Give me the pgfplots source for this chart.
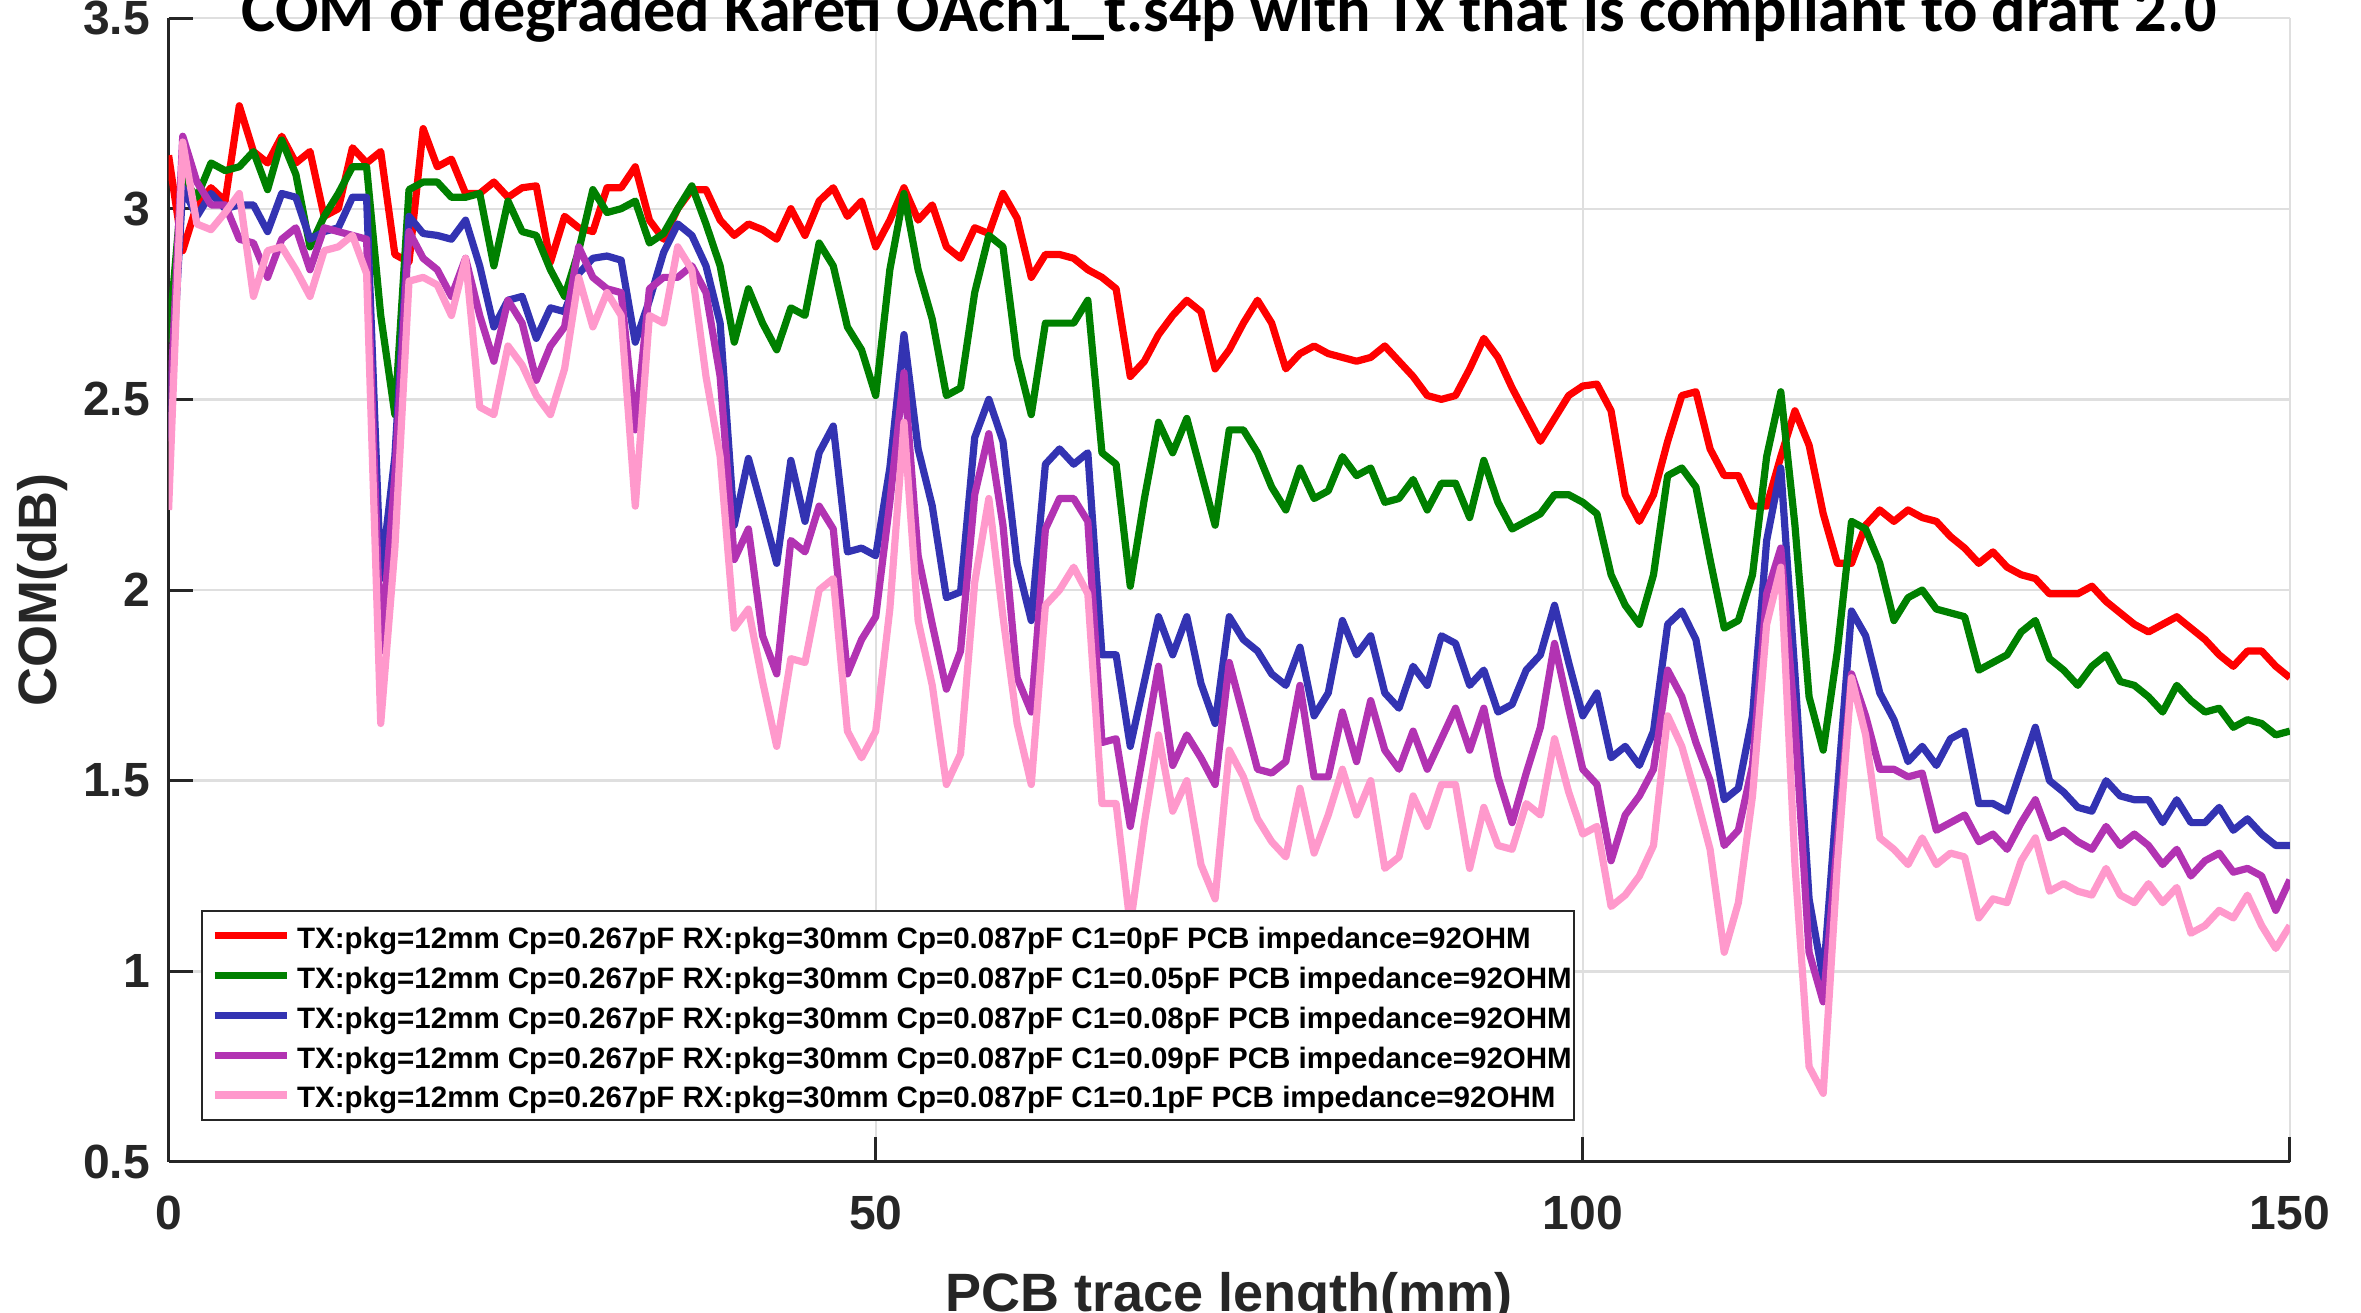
\documentclass[border=0pt]{standalone}
\usepackage{fontspec}
\setmainfont{Liberation Sans}
\newfontfamily\titlefont{Carlito}
\usepackage{pgfplots}
\usepackage{pgfplotstable}
\pgfplotsset{compat=1.18}

\definecolor{axgray}{RGB}{38,38,38}
\definecolor{gridgray}{RGB}{223,223,223}
\definecolor{cRed}{RGB}{255,0,0}
\definecolor{cGreen}{RGB}{0,128,0}
\definecolor{cBlue}{RGB}{51,51,178}
\definecolor{cPurple}{RGB}{178,51,178}
\definecolor{cPink}{RGB}{255,153,204}

% COM (dB) versus PCB trace length (mm), one column per C1 value
\pgfplotstableread{
x   c0    c05   c08   c09   c10
0   3.14  2.65  2.40  2.39  2.21
1   2.89  3.08  3.055 3.19  3.175
2   3.01  3.03  2.98  3.07  2.96
3   3.055 3.12  3.04  3.01  2.945
4   3.02  3.10  3.00  3.01  2.99
5   3.27  3.11  3.01  2.92  3.04
6   3.15  3.15  3.01  2.91  2.77
7   3.12  3.05  2.94  2.82  2.89
8   3.19  3.18  3.04  2.92  2.90
9   3.12  3.09  3.03  2.95  2.84
10  3.15  2.90  2.92  2.84  2.77
11  2.98  2.98  2.94  2.95  2.89
12  3.00  3.04  2.95  2.94  2.90
13  3.16  3.11  3.03  2.93  2.93
14  3.12  3.11  3.03  2.92  2.83
15  3.15  2.72  2.03  1.84  1.65
16  2.88  2.46  2.35  2.30  2.11
17  2.86  3.05  2.98  2.94  2.81
18  3.21  3.07  2.935 2.87  2.82
19  3.11  3.07  2.93  2.84  2.80
20  3.13  3.03  2.92  2.77  2.72
21  3.04  3.03  2.97  2.87  2.87
22  3.04  3.04  2.85  2.72  2.48
23  3.07  2.85  2.69  2.60  2.46
24  3.03  3.02  2.76  2.76  2.64
25  3.055 2.94  2.77  2.70  2.59
26  3.06  2.93  2.66  2.55  2.51
27  2.86  2.84  2.74  2.64  2.46
28  2.98  2.77  2.73  2.69  2.58
29  2.95  2.89  2.83  2.90  2.82
30  2.94  3.05  2.87  2.82  2.69
31  3.055 2.99  2.876 2.79  2.78
32  3.055 3.00  2.865 2.78  2.72
33  3.11  3.02  2.65  2.42  2.22
34  2.97  2.91  2.76  2.79  2.72
35  2.92  2.935 2.885 2.82  2.70
36  3.00  3.00  2.96  2.82  2.90
37  3.05  3.06  2.93  2.85  2.84
38  3.05  2.96  2.85  2.78  2.56
39  2.97  2.85  2.70  2.56  2.35
40  2.93  2.65  2.17  2.08  1.90
41  2.96  2.79  2.345 2.16  1.95
42  2.945 2.70  2.21  1.88  1.76
43  2.92  2.63  2.07  1.78  1.59
44  3.00  2.74  2.34  2.13  1.82
45  2.93  2.72  2.18  2.10  1.81
46  3.02  2.91  2.36  2.22  2.00
47  3.055 2.85  2.43  2.16  2.03
48  2.98  2.69  2.10  1.78  1.63
49  3.02  2.63  2.11  1.87  1.56
50  2.90  2.51  2.09  1.93  1.63
51  2.97  2.84  2.32  2.23  1.95
52  3.055 3.04  2.67  2.57  2.44
53  2.97  2.84  2.37  2.09  1.92
54  3.01  2.71  2.22  1.91  1.75
55  2.90  2.51  1.98  1.74  1.49
56  2.87  2.53  1.995 1.84  1.57
57  2.95  2.78  2.40  2.25  2.02
58  2.935 2.93  2.50  2.41  2.24
59  3.04  2.90  2.39  2.17  1.93
60  2.975 2.61  2.07  1.77  1.65
61  2.82  2.46  1.92  1.68  1.49
62  2.88  2.70  2.33  2.16  1.96
63  2.88  2.70  2.37  2.24  2.00
64  2.87  2.70  2.33  2.24  2.06
65  2.84  2.76  2.36  2.18  1.99
66  2.82  2.36  1.83  1.60  1.44
67  2.79  2.33  1.83  1.61  1.44
68  2.56  2.01  1.59  1.38  1.12
69  2.60  2.24  1.76  1.59  1.39
70  2.67  2.44  1.93  1.80  1.62
71  2.72  2.36  1.83  1.54  1.42
72  2.76  2.45  1.93  1.62  1.50
73  2.73  2.31  1.755 1.56  1.28
74  2.58  2.17  1.65  1.49  1.19
75  2.63  2.42  1.93  1.81  1.58
76  2.70  2.42  1.87  1.67  1.51
77  2.76  2.36  1.84  1.53  1.40
78  2.70  2.27  1.78  1.52  1.34
79  2.58  2.21  1.75  1.55  1.30
80  2.62  2.32  1.85  1.75  1.48
81  2.64  2.24  1.67  1.51  1.31
82  2.62  2.26  1.73  1.51  1.41
83  2.61  2.35  1.92  1.68  1.53
84  2.60  2.30  1.83  1.55  1.41
85  2.61  2.32  1.88  1.71  1.50
86  2.64  2.23  1.73  1.58  1.27
87  2.60  2.24  1.69  1.53  1.30
88  2.56  2.29  1.80  1.63  1.46
89  2.51  2.21  1.75  1.53  1.38
90  2.50  2.28  1.88  1.61  1.49
91  2.51  2.28  1.86  1.69  1.49
92  2.58  2.19  1.75  1.58  1.27
93  2.66  2.34  1.79  1.69  1.43
94  2.61  2.23  1.68  1.51  1.33
95  2.53  2.16  1.70  1.39  1.32
96  2.46  2.18  1.79  1.52  1.44
97  2.39  2.20  1.83  1.64  1.41
98  2.45  2.25  1.96  1.86  1.61
99  2.51  2.25  1.81  1.69  1.47
100 2.535 2.23  1.67  1.53  1.36
101 2.54  2.20  1.73  1.49  1.38
102 2.47  2.04  1.56  1.29  1.17
103 2.25  1.96  1.59  1.41  1.20
104 2.18  1.91  1.54  1.46  1.25
105 2.25  2.04  1.63  1.53  1.33
106 2.39  2.30  1.91  1.79  1.67
107 2.51  2.32  1.945 1.72  1.59
108 2.52  2.27  1.87  1.60  1.46
109 2.37  2.08  1.66  1.50  1.32
110 2.30  1.90  1.45  1.33  1.05
111 2.30  1.92  1.48  1.37  1.18
112 2.22  2.04  1.67  1.54  1.46
113 2.22  2.35  2.13  1.99  1.91
114 2.35  2.52  2.32  2.11  2.06
115 2.47  2.17  1.78  1.65  1.28
116 2.38  1.72  1.19  1.05  0.75
117 2.20  1.58  0.98  0.92  0.68
118 2.07  1.84  1.47  1.34  1.28
119 2.07  2.18  1.945 1.78  1.77
120 2.17  2.16  1.88  1.67  1.62
121 2.21  2.07  1.73  1.53  1.35
122 2.18  1.92  1.66  1.53  1.32
123 2.21  1.98  1.55  1.51  1.28
124 2.19  2.00  1.59  1.52  1.35
125 2.18  1.95  1.54  1.37  1.28
126 2.14  1.94  1.61  1.39  1.31
127 2.11  1.93  1.63  1.41  1.30
128 2.07  1.79  1.44  1.34  1.14
129 2.10  1.81  1.44  1.36  1.19
130 2.06  1.83  1.42  1.32  1.18
131 2.04  1.89  1.53  1.39  1.29
132 2.03  1.92  1.64  1.45  1.35
133 1.99  1.82  1.50  1.35  1.21
134 1.99  1.79  1.47  1.37  1.23
135 1.99  1.75  1.43  1.34  1.21
136 2.01  1.80  1.42  1.32  1.20
137 1.97  1.83  1.50  1.38  1.27
138 1.94  1.76  1.46  1.33  1.20
139 1.91  1.75  1.45  1.36  1.18
140 1.89  1.72  1.45  1.33  1.23
141 1.91  1.68  1.39  1.28  1.18
142 1.93  1.75  1.45  1.32  1.22
143 1.90  1.71  1.39  1.25  1.10
144 1.87  1.68  1.39  1.29  1.12
145 1.83  1.69  1.43  1.31  1.16
146 1.80  1.64  1.37  1.26  1.14
147 1.84  1.66  1.40  1.27  1.20
148 1.84  1.65  1.36  1.25  1.12
149 1.80  1.62  1.33  1.16  1.06
150 1.77  1.63  1.33  1.24  1.12
}\comdata

\newcommand{\entry}[1]{\makebox[422.7pt][l]{\rule[-2.5pt]{0pt}{12.57pt}#1}}

\begin{document}
\begin{tikzpicture}
\begin{axis}[
  scale only axis,
  width=707.1pt, height=381.3pt,
  xmin=0, xmax=150, ymin=0.5, ymax=3.5,
  xtick={0,50,100,150},
  ytick={0.5,1,1.5,2,2.5,3,3.5},
  grid=major,
  major grid style={draw=gridgray, line width=0.8pt},
  axis x line*=bottom, axis y line*=left,
  axis line style={draw=axgray, line width=1pt, -},
  tick align=inside,
  major tick length=8.3pt,
  tick style={draw=axgray, line width=1pt},
  /pgf/number format/assume math mode=true,
  ticklabel style={font=\fontsize{16}{19}\selectfont\bfseries, text=axgray},
  yticklabel style={anchor=east, inner sep=0pt, xshift=-6pt},
  xticklabel style={anchor=north, inner sep=0pt, yshift=-11pt},
  xlabel={PCB trace length(mm)},
  ylabel={COM(dB)},
  every axis x label/.style={at={(axis description cs:0.5,-0.1303)}, anchor=base,
    font=\fontsize{18}{21}\selectfont\bfseries, text=axgray},
  every axis y label/.style={at={(axis description cs:-0.05261,0.5)}, rotate=90, anchor=base,
    font=\fontsize{18}{21}\selectfont\bfseries, text=axgray},
  title={COM of degraded Kareti OAch1\_t.s4p with Tx that is compliant to draft 2.0},
  every axis title/.style={at={(axis description cs:0.5,0.9880)}, anchor=base,
    font=\titlefont\fontsize{21.4}{25}\selectfont\bfseries, text=black},
  legend cell align=left,
  legend image code/.code={\draw[#1] (0pt,0pt) -- (24pt,0pt);},
  legend style={at={(axis description cs:0.01527,0.03584)}, anchor=south west,
    draw=axgray, line width=0.7pt, fill=white,
    inner xsep=3pt, inner ysep=2.5pt, row sep=1.7pt, column sep=2.3pt,
    font=\fontsize{9.84}{11}\selectfont\bfseries, nodes={inner sep=0pt}},
  every axis plot/.append style={line width=2.4pt, line join=round},
]
\addplot[cRed]    table[x=x, y=c0]  {\comdata};
\addlegendentry{\entry{TX:pkg=12mm Cp=0.267pF RX:pkg=30mm Cp=0.087pF C1=0pF PCB impedance=92OHM}}
\addplot[cGreen]  table[x=x, y=c05] {\comdata};
\addlegendentry{\entry{TX:pkg=12mm Cp=0.267pF RX:pkg=30mm Cp=0.087pF C1=0.05pF PCB impedance=92OHM}}
\addplot[cBlue]   table[x=x, y=c08] {\comdata};
\addlegendentry{\entry{TX:pkg=12mm Cp=0.267pF RX:pkg=30mm Cp=0.087pF C1=0.08pF PCB impedance=92OHM}}
\addplot[cPurple] table[x=x, y=c09] {\comdata};
\addlegendentry{\entry{TX:pkg=12mm Cp=0.267pF RX:pkg=30mm Cp=0.087pF C1=0.09pF PCB impedance=92OHM}}
\addplot[cPink]   table[x=x, y=c10] {\comdata};
\addlegendentry{\entry{TX:pkg=12mm Cp=0.267pF RX:pkg=30mm Cp=0.087pF C1=0.1pF PCB impedance=92OHM}}
\end{axis}
\pgfresetboundingbox
\path[use as bounding box] (-56.2pt,-50.33pt) rectangle (730.8pt,387.33pt);
\end{tikzpicture}
\end{document}
